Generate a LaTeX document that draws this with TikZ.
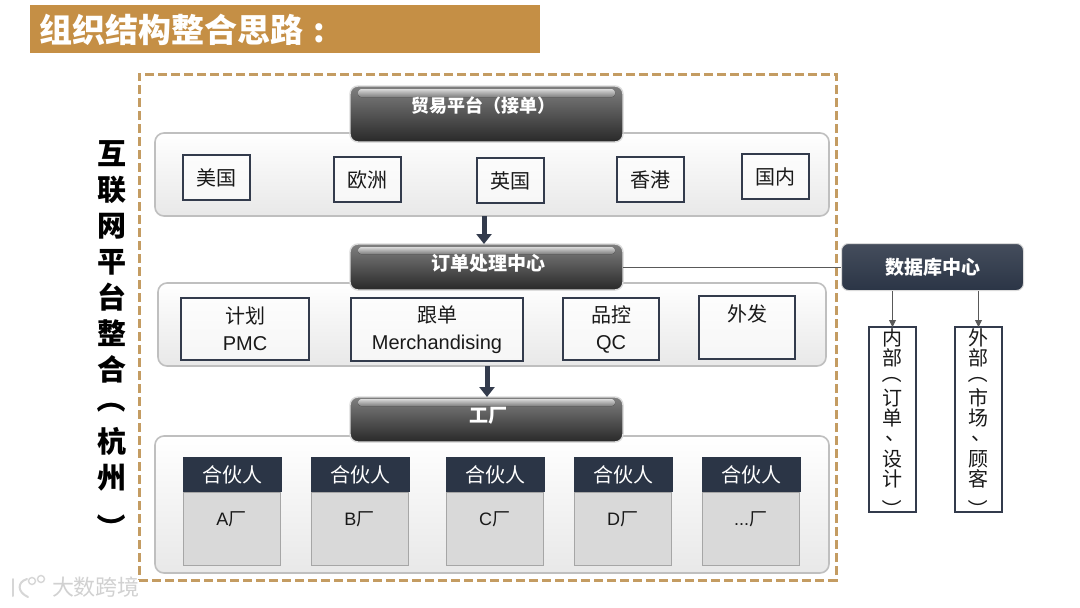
\documentclass[tikz,border=0pt]{standalone}
\usepackage{fontspec}
\setmainfont{Noto Sans CJK SC}
\newfontfamily\latinf{Liberation Sans}
\usetikzlibrary{arrows.meta}
\definecolor{gold}{HTML}{C58F45}
\definecolor{dashc}{HTML}{C49C62}
\definecolor{navy}{HTML}{2B3546}
\definecolor{inkc}{HTML}{333B4C}
\newcommand{\vopen}{\smash{\raisebox{.22em}{\rotatebox[origin=c]{-90}{\makebox[1em]{（}}}}}
\newcommand{\vclose}{\smash{\raisebox{-.5em}{\rotatebox[origin=c]{-90}{\makebox[1em]{）}}}}}
\newcommand{\vcomma}{\smash{\raisebox{.3em}{\hspace{.3em}、}}}
\newcommand{\tdots}{...}
\tikzset{
  x=1pt,y=-1pt,
  panel/.style={draw=black!25,line width=1.6pt,rounded corners=9pt,top color=white,bottom color=black!9,anchor=north west,inner sep=0pt,outer sep=0pt},
  darkbar/.style={draw=black!14,line width=1.4pt,rounded corners=8pt,top color=black!50,bottom color=black!84,anchor=north west,inner sep=0pt,outer sep=0pt,minimum width=273pt},
  gloss/.style={rounded corners=3pt,top color=black!15,bottom color=black!50,draw=none},
  bartext/.style={text=white,inner sep=0pt,font=\fontsize{#1}{#1}\selectfont\bfseries},
  wbox/.style={draw=inkc,line width=2.4pt,fill=white,fill opacity=.6,text opacity=1,anchor=north west,inner sep=0pt,outer sep=0pt,text=black!90,align=center,font=\fontsize{20}{27}\selectfont},
  vbox/.style={draw=inkc,line width=2.4pt,fill=white,anchor=north west,inner sep=0pt,outer sep=0pt,minimum width=47pt,minimum height=185pt},
  vtext/.style={inner sep=0pt,anchor=north,align=center,text=black!90,font=\fontsize{20}{20.2}\selectfont},
  hdr/.style={fill=navy,text=white,anchor=north west,minimum width=99pt,minimum height=35pt,inner sep=0pt,outer sep=0pt,font=\fontsize{20}{20}\selectfont},
  bodyb/.style={draw=black!35,line width=.8pt,fill=black!15,anchor=north west,minimum width=97pt,minimum height=73pt,inner sep=0pt,outer sep=0pt},
  fat/.style={draw=inkc,line width=5pt,-{Triangle[length=10pt,width=15pt]}},
  thin/.style={draw=black!65,line width=.9pt,-{Triangle[length=7pt,width=7pt]}},
  wmline/.style={draw=black!16,line width=2pt,line cap=round},
}
\begin{document}
\begin{tikzpicture}
\useasboundingbox (0,0) rectangle (1080,608);
\fill[white] (0,0) rectangle (1080,608);
% title
\node[fill=gold,anchor=north west,minimum width=510pt,minimum height=48pt,inner sep=0pt] (title) at (30,5) {};
\node[anchor=west,text=white,inner sep=0pt,font=\fontsize{33}{33}\selectfont\bfseries] (titlet) at (39,30) {组织结构整合思路\hspace{10pt}:};
% frame
\node[draw=dashc,dashed,dash pattern=on 9pt off 4pt,line width=3pt,anchor=north west,minimum width=697pt,minimum height=506pt,inner sep=0pt,outer sep=0pt] (frame) at (139,74) {};
% panels
\node[panel,minimum width=674pt,minimum height=83pt] (p1) at (155,133) {};
\node[panel,minimum width=668pt,minimum height=83pt] (p2) at (158,283) {};
\node[panel,minimum width=674pt,minimum height=137pt] (p3) at (155,436) {};
% dark bars
\node[darkbar,minimum height=56pt] (trade) at (350,86) {};
\fill[gloss] (358,89) rectangle (615,97);
\node[bartext=18] (tradet) at (483,106) {贸易平台（接单）};
\node[darkbar,minimum height=46pt] (order) at (350,244) {};
\fill[gloss] (358,247) rectangle (615,254);
\node[bartext=19] (ordert) at (488,263) {订单处理中心};
\node[darkbar,minimum height=45pt] (fact) at (350,397) {};
\fill[gloss] (358,399) rectangle (615,406);
\node[bartext=19] (factt) at (488,416) {工厂};
% row 1
\foreach \n/\x/\y/\t in {a/183/155/美国,b/334/157/欧洲,c/477/158/英国,d/617/157/香港,e/742/154/国内}{
  \node[wbox,minimum width=67pt,minimum height=45pt] (r\n) at (\x,\y) {\t};
}
% row 2
\node[wbox,minimum width=128pt,minimum height=62pt] (pmc) at (181,298) {计划\\{\latinf PMC}};
\node[wbox,minimum width=172pt,minimum height=63pt] (mer) at (351,298) {跟单\\{\latinf Merchandising}};
\node[wbox,minimum width=96pt,minimum height=62pt] (qc) at (563,298) {品控\\{\latinf QC}};
\node[wbox,minimum width=96pt,minimum height=63pt] (wf) at (699,296) {};
\node[font=\fontsize{20}{20}\selectfont,text=black!90,inner sep=0pt] (wft) at (747,314) {外发};
% partners
\foreach \n/\x/\t in {a/183/A,b/311/B,c/446/C,d/574/D,e/702/\tdots}{
  \node[bodyb] (bd\n) at (\x,492) {};
  \node[hdr] (hd\n) at (\x,457) {合伙人};
  \node[font=\fontsize{18}{18}\selectfont,inner sep=0pt,text=black!90] at ([yshift=-27pt]bd\n.north) {{\latinf\t}厂};
}
% database
\node[draw=black!14,line width=1pt,rounded corners=7pt,top color=navy!88,bottom color=navy,anchor=north west,minimum width=182pt,minimum height=47pt,inner sep=0pt,text=white,font=\fontsize{19}{19}\selectfont\bfseries] (db) at (841,243) {数据库中心};
\node[vbox] (inn) at (869,327) {};
\node[vbox] (out) at (955,327) {};
\node[vtext] (innt) at (892.5,328) {内\\部\\\vopen\\订\\单\\\vcomma\\设\\计\\\vclose};
\node[vtext] (outt) at (978.5,328) {外\\部\\\vopen\\市\\场\\\vcomma\\顾\\客\\\vclose};
% connectors
\draw[fat] ([xshift=-8pt]p1.south) -- ([xshift=-2.5pt]order.north);
\draw[fat] ([xshift=-5pt]p2.south) -- ([xshift=.5pt]fact.north);
\draw[draw=black!65,line width=.8pt] (order.east) -- (order.east -| db.west);
\draw[thin] (db.south -| inn.north) -- (inn.north);
\draw[thin] (db.south -| out.north) -- (out.north);
% side text
\node[inner sep=0pt,anchor=north,align=center,text=black,font=\fontsize{29}{36}\selectfont\bfseries] (side) at (112,140) {互\\联\\网\\平\\台\\整\\合\\\vopen\\杭\\州\\\vclose};
% watermark
\node[inner sep=0pt,text=black!18,font=\fontsize{22}{22}\selectfont] (wm) at (96,587) {大数跨境};
\draw[wmline] (13,579) -- (13,596);
\draw[wmline] (27,579) .. controls (17,582) and (17,592) .. (28,597);
\draw[black!16,line width=1.4pt] (32,581) circle (3.5pt) (41,579) circle (3.5pt);
\end{tikzpicture}
\end{document}
